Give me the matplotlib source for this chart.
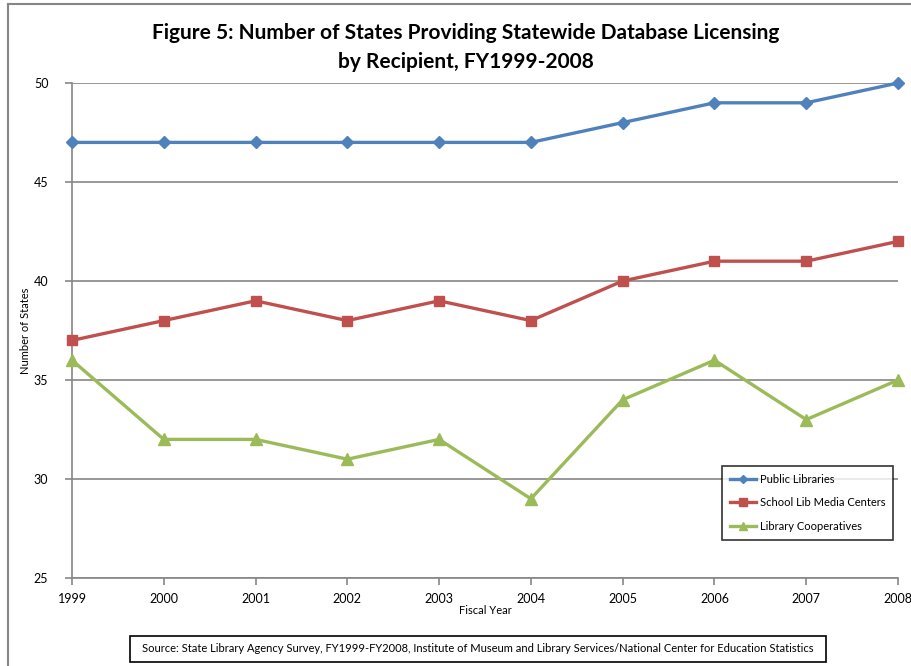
import matplotlib
matplotlib.use('Agg')
import matplotlib.pyplot as plt
from matplotlib.lines import Line2D
from matplotlib.patches import Rectangle

plt.rcParams['font.family'] = ['Lato', 'DejaVu Sans']

years = [1999, 2000, 2001, 2002, 2003, 2004, 2005, 2006, 2007, 2008]
public_libs = [47, 47, 47, 47, 47, 47, 48, 49, 49, 50]
school_libs = [37, 38, 39, 38, 39, 38, 40, 41, 41, 42]
coops = [36, 32, 32, 31, 32, 29, 34, 36, 33, 35]
y_ticks = [25, 30, 35, 40, 45, 50]

fig = plt.figure(figsize=(9.12, 6.66), dpi=100)
ax = fig.add_axes([72 / 912, 1 - 578 / 666, (898 - 72) / 912, (578 - 83) / 666])

ax.plot(years, public_libs, color='#4F81BD', marker='D', markersize=6,
        linewidth=2.4, label='Public Libraries', clip_on=False, zorder=5)
ax.plot(years, school_libs, color='#C0504D', marker='s', markersize=7,
        linewidth=2.4, label='School Lib Media Centers', clip_on=False, zorder=5)
ax.plot(years, coops, color='#9BBB59', marker='^', markersize=8,
        linewidth=2.4, label='Library Cooperatives', clip_on=False, zorder=5)

ax.set_xlim(1999, 2008)
ax.set_ylim(25, 50)
ax.set_xticks(years)
ax.set_yticks(y_ticks)
ax.yaxis.grid(True, color='#868686', linewidth=1.2)
ax.set_axisbelow(True)
for s in ['top', 'right']:
    ax.spines[s].set_visible(False)
for s in ['left', 'bottom']:
    ax.spines[s].set_color('#868686')
    ax.spines[s].set_linewidth(1.2)
ax.tick_params(axis='both', colors='#868686', labelcolor='black', labelsize=9,
               length=5, width=1.2)
ax.tick_params(axis='y', pad=12)
ax.tick_params(axis='x', pad=6)
ax.set_xlabel('Fiscal Year', fontsize=8, labelpad=0)
ax.set_ylabel('Number of States', fontsize=8)
ax.yaxis.set_label_coords(-0.05, 0.5)

leg = ax.legend(loc='lower right', bbox_to_anchor=(0.994, 0.077), fontsize=8,
                frameon=True, fancybox=False, edgecolor='black',
                handlelength=2.4, handletextpad=0.3, markerscale=0.75,
                labelspacing=1.15, borderpad=0.7, borderaxespad=0)
leg.get_frame().set_linewidth(1.2)

fig.text(0.511, 0.951, 'Figure 5: Number of States Providing Statewide Database Licensing',
         ha='center', va='center', fontsize=15, fontweight='bold')
fig.text(0.511, 0.907, 'by Recipient, FY1999-2008',
         ha='center', va='center', fontsize=15, fontweight='bold')

fig.text(0.524, 1 - 649 / 666,
         'Source: State Library Agency Survey, FY1999-FY2008, Institute of Museum and Library Services/National Center for Education Statistics',
         ha='center', va='center', fontsize=8)
fig.add_artist(Rectangle((130 / 912, 1 - 662 / 666), 696 / 912, 26 / 666,
                         transform=fig.transFigure, fill=False,
                         edgecolor='black', linewidth=1.2))

# outer frame
fig.add_artist(Line2D([8 / 912, 8 / 912], [0, 1 - 4 / 666],
                      transform=fig.transFigure, color='#868686', linewidth=1.5))
fig.add_artist(Line2D([8 / 912, 1], [1 - 4 / 666, 1 - 4 / 666],
                      transform=fig.transFigure, color='#868686', linewidth=1.5))

fig.savefig('out.png', dpi=100)
plt.close()
